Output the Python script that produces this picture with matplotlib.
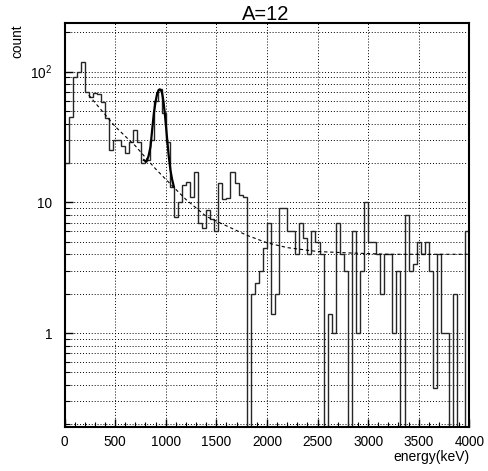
import numpy as np
import matplotlib
matplotlib.use("Agg")
import matplotlib.pyplot as plt
from matplotlib.ticker import FixedLocator, LogLocator, NullFormatter

plt.rcParams["font.family"] = ["Liberation Sans", "DejaVu Sans"]
plt.rcParams["mathtext.fontset"] = "custom"
plt.rcParams["mathtext.rm"] = "Liberation Sans"

# histogram: 100 bins of 40 keV, 0..4000 keV
bin_edges = np.arange(0, 4001, 40)
counts = [
    20, 45, 91, 100, 118, 70, 64, 68, 67, 58,
    44, 25, 30, 30, 27, 24, 29, 36, 29, 20,
    21, 30, 59, 73, 48, 29, 13, 7.7, 10, 13.5,
    14.3, 11, 17, 6.9, 6.4, 8.7, 7.5, 6, 14, 10.5,
    10.8, 17, 14, 11.3, 11, 0, 2, 2.4, 3, 4.5,
    7, 1.4, 2, 9, 9, 6, 6, 4, 7, 5.3,
    4, 6, 5, 4, 0, 1.4, 1, 7, 4, 3,
    0, 6, 1, 3, 10, 5, 5, 4, 2, 4,
    4, 1, 3, 0, 8, 3, 3.4, 5, 4, 5,
    3, 0.38, 4, 1, 1, 0, 2, 0, 0, 6,
]

# background fit (dashed)
bkg_e = [240, 300, 400, 500, 600, 700, 800, 900, 1000, 1200, 1400,
         1600, 1800, 2000, 2200, 2500, 2800, 3200, 3600, 4000]
bkg_v = [66, 58, 47, 38, 32, 27, 22, 18, 15, 10.5, 7.8,
         6.6, 5.6, 4.9, 4.5, 4.2, 4.1, 4.0, 4.0, 4.0]

# peak fit (solid)
peak_e = [785, 810, 830, 850, 865, 883, 900, 916, 930, 942, 955,
          965, 978, 991, 1003, 1015, 1030, 1047, 1063, 1080]
peak_v = [21, 20.4, 22.5, 26.6, 35, 48, 59, 68, 72, 73, 71.5,
          68, 59, 48, 38, 30, 22.5, 17.6, 15, 13.2]

x_ticks = [0, 500, 1000, 1500, 2000, 2500, 3000, 3500, 4000]
y_ticks = [1, 10, 100]
y_tick_labels = ["1", "10", "$10^{2}$"]

W, H = 488, 471
fig = plt.figure(figsize=(W / 100, H / 100), dpi=100)
ax = fig.add_axes([64.5 / W, 1 - 427 / H, (469.3 - 64.5) / W, (427 - 23) / H])

ymin, ymax = 0.191, 235
ax.set_yscale("log")
ax.set_xlim(0, 4000)
ax.set_ylim(ymin, ymax)

# zero bins drop below the frame
c = np.asarray(counts, dtype=float)
c_draw = np.where(c > 0, c, ymin / 10)
ax.stairs(c_draw, bin_edges, color="#262626", lw=1.0, baseline=None)

ax.plot(bkg_e, bkg_v, color="black", lw=0.8, linestyle=(0, (3, 2.5)))
ax.plot(peak_e, peak_v, color="black", lw=1.6)

# axes, ticks, grid
ax.xaxis.set_major_locator(FixedLocator(x_ticks))
ax.xaxis.set_minor_locator(FixedLocator(np.arange(0, 4001, 100)))
ax.set_xticklabels([str(t) for t in x_ticks])
ax.yaxis.set_major_locator(FixedLocator(y_ticks))
ax.set_yticklabels(y_tick_labels)
ax.yaxis.set_minor_locator(LogLocator(base=10, subs=np.arange(2, 10)))
ax.yaxis.set_minor_formatter(NullFormatter())

ax.tick_params(which="both", direction="in", labelsize=9.8, colors="black")
ax.tick_params(which="major", length=6, width=1.0)
ax.tick_params(which="minor", length=3.5, width=0.8)
ax.tick_params(axis="x", pad=6)
ax.tick_params(axis="y", pad=9)

grid_style = dict(color="black", lw=0.7, linestyle=(0, (1, 2)))
ax.grid(True, which="major", axis="x", **grid_style)
ax.grid(True, which="both", axis="y", **grid_style)
ax.set_axisbelow(True)

for s in ax.spines.values():
    s.set_linewidth(1.5)

fig.text(266 / W, 1 - 20 / H, "A=12", ha="center", va="baseline", fontsize=14.5)
fig.text(17.5 / W, 1 - 25 / H, "count", rotation=90, ha="center", va="top",
         fontsize=9.8)
fig.text(469 / W, 1 - 461 / H, "energy(keV)", ha="right", va="baseline",
         fontsize=10)

fig.savefig("out.png", dpi=100)
